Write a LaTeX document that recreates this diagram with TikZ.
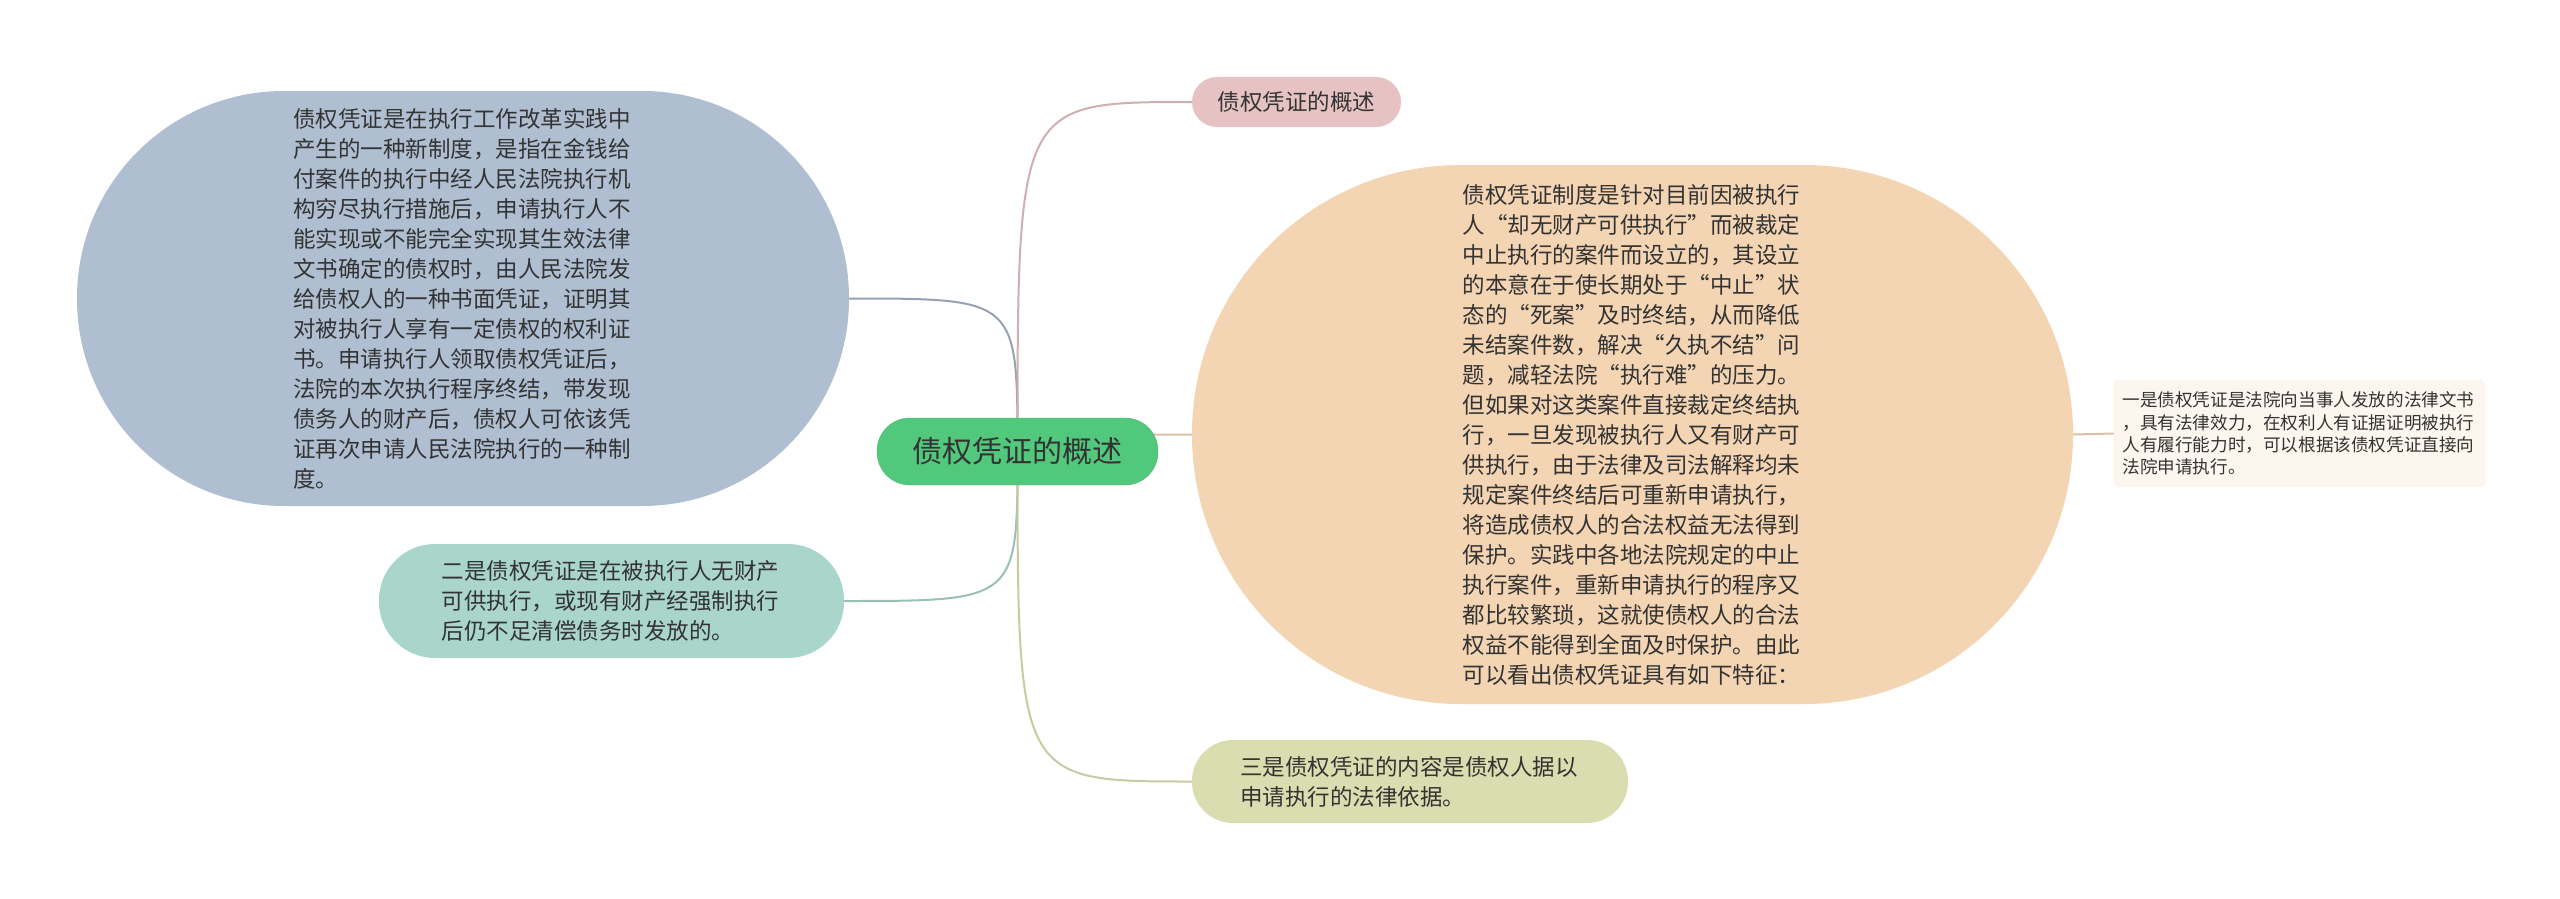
\documentclass[tikz,border=0pt]{standalone}
\usepackage{fontspec}
\setmainfont{Noto Sans CJK SC}
\usetikzlibrary{backgrounds}
\definecolor{inkgray}{HTML}{333333}
\definecolor{rootgreen}{HTML}{52C87C}
\definecolor{slateblue}{HTML}{AFBFD1}
\definecolor{rosepink}{HTML}{E6C2C2}
\definecolor{peach}{HTML}{F3D5B4}
\definecolor{cream}{HTML}{FDF6EE}
\definecolor{seateal}{HTML}{A9D5CA}
\definecolor{olive}{HTML}{D9DDAF}
\begin{document}
\begin{tikzpicture}[x=1pt, y=-1pt,
   every node/.style={text=inkgray, inner sep=0pt, align=left},
   bigtext/.style={font=\fontsize{22.5pt}{30pt}\selectfont, text width=340pt},
   smalltext/.style={font=\fontsize{17.6pt}{22.4pt}\selectfont, text width=354pt},
   branch/.style={line width=2pt}]

\useasboundingbox (0,0) rectangle (2560,899);

\node[fill=rootgreen, draw=rootgreen!90!black, minimum width=281pt, minimum height=67pt,
      rounded corners=33pt, align=center, font=\fontsize{30pt}{36pt}\selectfont]
      (root) at (1017.5,451.5) {债权凭证的概述};

\node[fill=slateblue, minimum width=772pt, minimum height=415pt, rounded corners=207pt, bigtext]
      (origin) at (463,298.5)
      {债权凭证是在执行工作改革实践中\\
       产生的一种新制度，是指在金钱给\\
       付案件的执行中经人民法院执行机\\
       构穷尽执行措施后，申请执行人不\\
       能实现或不能完全实现其生效法律\\
       文书确定的债权时，由人民法院发\\
       给债权人的一种书面凭证，证明其\\
       对被执行人享有一定债权的权利证\\
       书。申请执行人领取债权凭证后，\\
       法院的本次执行程序终结，带发现\\
       债务人的财产后，债权人可依该凭\\
       证再次申请人民法院执行的一种制\\
       度。};

\node[fill=seateal, minimum width=465pt, minimum height=114pt, rounded corners=56pt, bigtext]
      (second) at (611.5,601)
      {二是债权凭证是在被执行人无财产\\
       可供执行，或现有财产经强制执行\\
       后仍不足清偿债务时发放的。};

\node[fill=rosepink, minimum width=209pt, minimum height=50pt, rounded corners=25pt,
      align=center, font=\fontsize{22.5pt}{30pt}\selectfont]
      (title) at (1296.5,102) {债权凭证的概述};

\node[fill=peach, minimum width=881pt, minimum height=539pt, rounded corners=269pt, bigtext]
      (reason) at (1632.5,434.5)
      {债权凭证制度是针对目前因被执行\\
       人“却无财产可供执行”而被裁定\\
       中止执行的案件而设立的，其设立\\
       的本意在于使长期处于“中止”状\\
       态的“死案”及时终结，从而降低\\
       未结案件数，解决“久执不结”问\\
       题，减轻法院“执行难”的压力。\\
       但如果对这类案件直接裁定终结执\\
       行，一旦发现被执行人又有财产可\\
       供执行，由于法律及司法解释均未\\
       规定案件终结后可重新申请执行，\\
       将造成债权人的合法权益无法得到\\
       保护。实践中各地法院规定的中止\\
       执行案件，重新申请执行的程序又\\
       都比较繁琐，这就使债权人的合法\\
       权益不能得到全面及时保护。由此\\
       可以看出债权凭证具有如下特征：};

\node[fill=cream, draw=peach!40, minimum width=371pt, minimum height=107pt, rounded corners=6pt, smalltext]
      (first) at (2299.5,433.5)
      {一是债权凭证是法院向当事人发放的法律文书\\
       ，具有法律效力，在权利人有证据证明被执行\\
       人有履行能力时，可以根据该债权凭证直接向\\
       法院申请执行。};

\node[fill=olive, minimum width=436pt, minimum height=83pt, rounded corners=41pt, bigtext]
      (third) at (1410,781.5)
      {三是债权凭证的内容是债权人据以\\
       申请执行的法律依据。};

\begin{pgfonlayer}{background}
\draw[branch, slateblue!85!black] (root.center) .. controls (root.center |- origin.east) .. (origin.east);
\draw[branch, seateal!90!black] (root.center) .. controls (root.center |- second.east) .. (second.east);
\draw[branch, rosepink!90!black] (root.center) .. controls (root.center |- title.west) .. (title.west);
\draw[branch, peach!90!black] (root.center) .. controls (root.center |- reason.west) .. (reason.west);
\draw[branch, olive!92!black] (root.center) .. controls (root.center |- third.west) .. (third.west);
\draw[branch, peach!90!black] (reason.east) -- (first.west);
\end{pgfonlayer}

\end{tikzpicture}
\end{document}
